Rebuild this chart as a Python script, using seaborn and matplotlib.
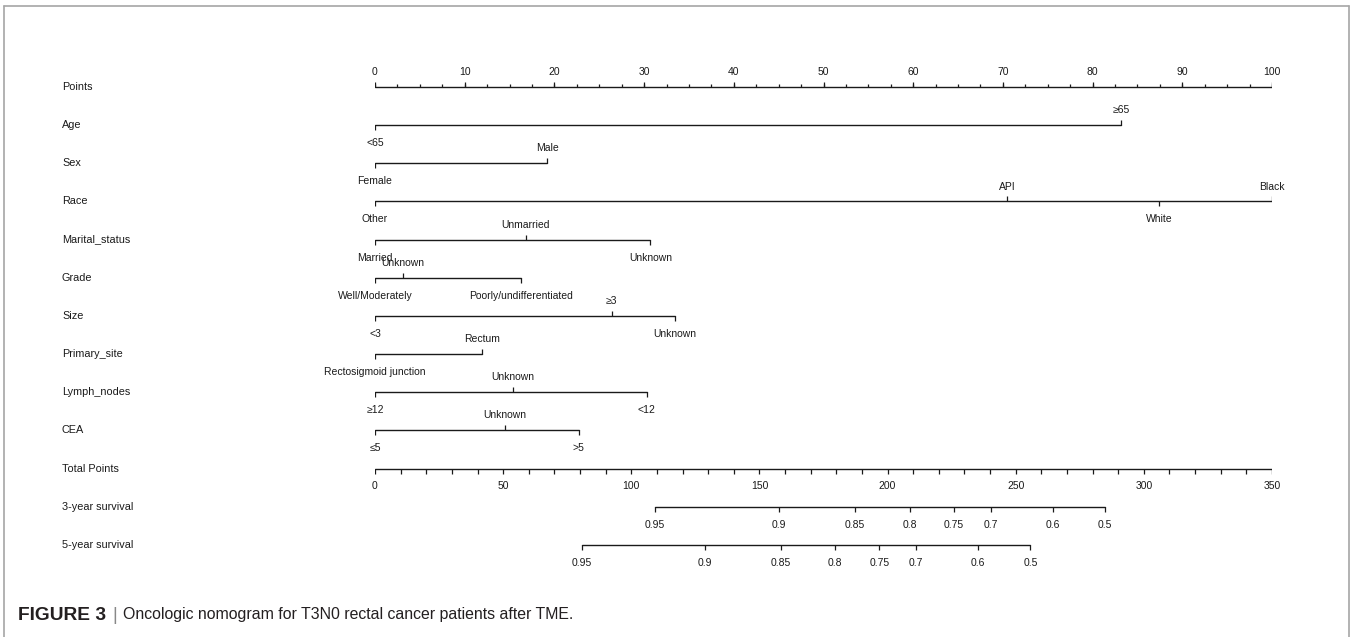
import numpy as np
import pandas as pd
import matplotlib.pyplot as plt
from matplotlib.lines import Line2D
import seaborn as sns

# nomogram data (points scale 0-100)
row_names = ['Points', 'Age', 'Sex', 'Race', 'Marital_status', 'Grade', 'Size',
             'Primary_site', 'Lymph_nodes', 'CEA', 'Total Points',
             '3-year survival', '5-year survival']

age_labels = ['<65', '≥65']
age_pts = [0, 83.2]
sex_labels = ['Female', 'Male']
sex_pts = [0, 19.2]
race_labels = ['Other', 'API', 'White', 'Black']
race_pts = [0, 70.5, 87.4, 100]
marital_labels = ['Married', 'Unmarried', 'Unknown']
marital_pts = [0, 16.8, 30.7]
grade_labels = ['Well/Moderately', 'Unknown', 'Poorly/undifferentiated']
grade_pts = [0, 3.1, 16.3]
size_labels = ['<3', '≥3', 'Unknown']
size_pts = [0, 26.4, 33.4]
site_labels = ['Rectosigmoid junction', 'Rectum']
site_pts = [0, 11.9]
lymph_labels = ['≥12', 'Unknown', '<12']
lymph_pts = [0, 15.4, 30.3]
cea_labels = ['≤5', 'Unknown', '>5']
cea_pts = [0, 14.5, 22.7]

total_max = 350
surv_labels = ['0.95', '0.9', '0.85', '0.8', '0.75', '0.7', '0.6', '0.5']
surv3_total = [109.2, 157.6, 187.3, 208.7, 225.9, 240.3, 264.5, 284.8]
surv5_total = [80.6, 128.8, 158.3, 179.5, 196.8, 211.1, 235.1, 255.7]

variables = [(age_labels, age_pts), (sex_labels, sex_pts), (race_labels, race_pts),
             (marital_labels, marital_pts), (grade_labels, grade_pts),
             (size_labels, size_pts), (site_labels, site_pts),
             (lymph_labels, lymph_pts), (cea_labels, cea_pts)]

sns.set_style('white')
plt.rcParams['font.family'] = ['Liberation Sans', 'DejaVu Sans']

fig = plt.figure(figsize=(13.52, 6.37), dpi=100)
ax = fig.add_axes([375 / 1352, 1 - 583 / 637, 897 / 1352, (583 - 48.8) / 637])
ax.set_xlim(0, 100)
ax.set_ylim(13, -1)
ax.axis('off')

ink = '#1a1a1a'
fs = 7.5
tk = 0.131  # ~5 px tick
scale = 100 / total_max

# horizontal segments through seaborn
segs = []
segs += [dict(x=0, y=0, seg='pts'), dict(x=100, y=0, seg='pts')]
for i, (labs, pts) in enumerate(variables):
    r = i + 1
    segs += [dict(x=min(pts), y=r, seg=f'v{r}'), dict(x=max(pts), y=r, seg=f'v{r}')]
segs += [dict(x=0, y=10, seg='tot'), dict(x=100, y=10, seg='tot')]
segs += [dict(x=surv3_total[0] * scale, y=11, seg='s3'),
         dict(x=surv3_total[-1] * scale, y=11, seg='s3')]
segs += [dict(x=surv5_total[0] * scale, y=12, seg='s5'),
         dict(x=surv5_total[-1] * scale, y=12, seg='s5')]
df = pd.DataFrame(segs)
sns.lineplot(data=df, x='x', y='y', units='seg', estimator=None, color=ink,
             lw=1.0, ax=ax, legend=False)

# Points axis
major = np.arange(0, 101, 10)
minor = np.arange(0, 100.1, 2.5)
ax.vlines(minor, 0, -0.075, color=ink, lw=0.9)
ax.vlines(major, 0, -tk, color=ink, lw=0.9)
for m in major:
    ax.text(m, -0.39, str(m), ha='center', va='center', fontsize=fs, color=ink)

# variable rows: labels alternate below/above along the scale
for i, (labs, pts) in enumerate(variables):
    r = i + 1
    order = np.argsort(pts, kind='stable')
    for rank, j in enumerate(order):
        up = rank % 2 == 1
        ax.vlines(pts[j], r, r - tk if up else r + tk, color=ink, lw=0.9)
        ax.text(pts[j], r - 0.39 if up else r + 0.47, labs[j], ha='center',
                va='center', fontsize=fs, color=ink)

# Total points axis
tot_ticks = np.arange(0, total_max + 1, 10)
ax.vlines(tot_ticks * scale, 10, 10 + tk, color=ink, lw=0.9)
for t in range(0, total_max + 1, 50):
    ax.text(t * scale, 10.47, str(t), ha='center', va='center', fontsize=fs, color=ink)

# survival rows
for r, tots in [(11, surv3_total), (12, surv5_total)]:
    xs = np.array(tots) * scale
    ax.vlines(xs, r, r + tk, color=ink, lw=0.9)
    for x, lab in zip(xs, surv_labels):
        ax.text(x, r + 0.48, lab, ha='center', va='center', fontsize=fs, color=ink)

# row titles
for r, name in enumerate(row_names):
    ax.text((62 - 375) / 8.97, r, name, ha='left', va='center', fontsize=7.8,
            color=ink, clip_on=False)

# figure frame
fc = '#a6a6a6'
fig.add_artist(Line2D([4 / 1352, 1349 / 1352], [1 - 6 / 637, 1 - 6 / 637],
                      transform=fig.transFigure, color=fc, lw=1.2))
fig.add_artist(Line2D([4 / 1352, 4 / 1352], [0, 1 - 6 / 637],
                      transform=fig.transFigure, color=fc, lw=1.2))
fig.add_artist(Line2D([1349 / 1352, 1349 / 1352], [0, 1 - 6 / 637],
                      transform=fig.transFigure, color=fc, lw=1.2))

# caption
cy = 1 - 615 / 637
fig.text(18 / 1352, cy, 'FIGURE 3', fontsize=13.8, fontweight='bold',
         color='#231f20', va='center', ha='left')
fig.text(112 / 1352, cy, '|', fontsize=13, color='#888888', va='center', ha='left')
fig.text(123 / 1352, cy, 'Oncologic nomogram for T3N0 rectal cancer patients after TME.',
         fontsize=11.4, color='#231f20', va='center', ha='left')

fig.savefig('out.png', dpi=100, facecolor='white')
